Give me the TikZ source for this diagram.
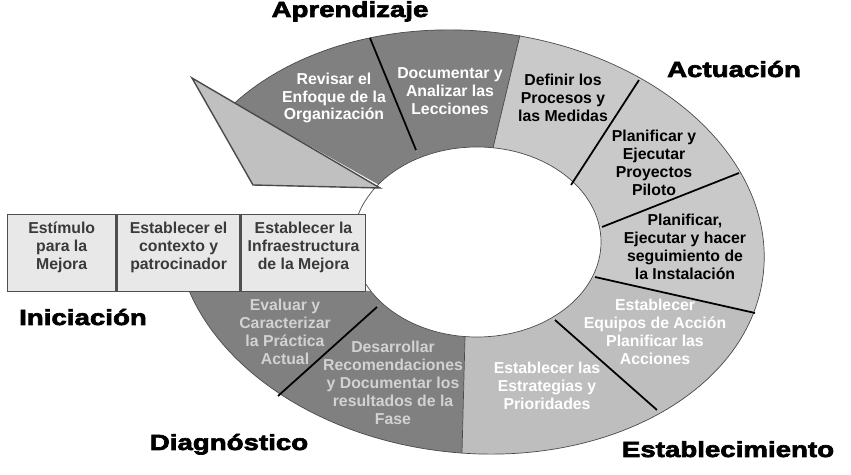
\documentclass[tikz,border=0pt]{standalone}
\usepackage{fontspec}
\setmainfont{Liberation Sans}
\newfontfamily\phasefont[FakeStretch=1.26,FakeBold=3]{Liberation Sans Bold}
\usetikzlibrary{positioning,calc}
\definecolor{ringdark}{HTML}{808080}
\definecolor{ringmid}{HTML}{BEBEBE}
\definecolor{ringlight}{HTML}{C9C9C9}
\definecolor{ringedge}{HTML}{4A4A4A}
\definecolor{headfill}{HTML}{C0C0C0}
\definecolor{boxfill}{HTML}{E8E8E8}
\definecolor{boxline}{HTML}{4F4F4F}
\definecolor{boxtext}{HTML}{3A3A3A}
\definecolor{diagtext}{HTML}{D2D2D2}
\def\px{0.02cm}
\tikzset{
  seglabel/.style={align=center, inner sep=0pt, font=\fontsize{9}{10.2}\selectfont\bfseries},
  phase/.style={anchor=base, inner sep=0pt, font=\phasefont\fontsize{12.5}{14}\selectfont},
  stagebox/.style={draw=boxline, fill=boxfill, line width=0.8pt, align=center, inner sep=0pt,
                   minimum height=77*\px, text height=27.4pt, text depth=8.7pt, text=boxtext,
                   font=\fontsize{9}{10.2}\selectfont\bfseries},
  cut/.style={draw=black, line width=1pt},
  seam/.style={draw=ringedge, line width=0.4pt},
}

\begin{document}
\begin{tikzpicture}[x=\px, y=-\px]
  \useasboundingbox (0,0) rectangle (851,475);
  \def\rot{-6}
  \coordinate (ctr) at (470,242);
  \coordinate (hole) at (477,242);
  % cuts of the ring: outer end / inner end
  \foreach \n/\ox/\oy/\ix/\iy in {0/180/291/362/291, 1/278/396/377/307, 2/462/453/465/337,
      3/657/410/555/320, 4/755/313/595/277, 5/739/173/602/227, 6/639/80/571/185,
      7/520/35/493/148, 8/370/38/416/150, 9/237/105/365/177}{
    \coordinate (o\n) at (\ox,\oy);
    \coordinate (i\n) at (\ix,\iy);
    \coordinate (e\n) at ($(o\n)!-0.6!(i\n)$);
    \coordinate (j\n) at ($(i\n)!-0.3!(o\n)$);}
  % ring segments
  \begin{scope}
    \clip[rotate around={\rot:(ctr)}] (ctr) ellipse [x radius=295*\px, y radius=211*\px];
    \foreach \a/\b/\c in {0/1/ringdark, 1/2/ringdark, 2/3/ringmid, 3/4/ringmid, 4/5/ringlight,
        5/6/ringlight, 6/7/ringlight, 7/8/ringdark, 8/9/ringdark}
      \fill[\c] (j\a) -- (e\a) -- (e\b) -- (j\b) -- cycle;
  \end{scope}
  \begin{scope}
    \clip (ctr) -- (e0) -- (e1) -- (e2) -- (e3) -- (e4) -- (e5) -- (e6) -- (e7) -- (e8) -- (e9) -- cycle;
    \draw[seam, rotate around={\rot:(ctr)}] (ctr) ellipse [x radius=295*\px, y radius=211*\px];
  \end{scope}
  \fill[white] (hole) ellipse [x radius=124*\px, y radius=95*\px];
  \draw[seam] (hole) ellipse [x radius=124*\px, y radius=95*\px];
  \foreach \n in {1,3,4,5,6,8} \draw[cut] (o\n) -- (i\n);
  \foreach \n in {2,7} \draw[seam] (o\n) -- (i\n);
  % arrow head
  \coordinate (hd1) at (192,78);
  \coordinate (hd2) at (380,188);
  \coordinate (hd3) at (253,185);
  \draw[seam, line width=0.8pt, fill=headfill] (hd1) -- (hd2) -- (hd3) -- cycle;
  % Iniciacion
  \node[stagebox, anchor=north west, minimum width=108*\px] (estimulo) at (7,214) {Estímulo\\para la\\Mejora};
  \node[stagebox, minimum width=123*\px, right=0pt of estimulo] (contexto) {Establecer el\\contexto y\\patrocinador};
  \node[stagebox, minimum width=124*\px, right=0pt of contexto] (infra) {Establecer la\\Infraestructura\\de la Mejora};
  % segment texts
  \node[seglabel, text=white] (revisar) at (334,98) {Revisar el\\Enfoque de la\\Organización};
  \node[seglabel, text=white] (documentar) at (450,91) {Documentar y\\Analizar las\\Lecciones};
  \node[seglabel] (definir) at (563,98) {Definir los\\Procesos y\\las Medidas};
  \node[seglabel] (proyectos) at (654,163) {Planificar y\\Ejecutar\\Proyectos\\Piloto};
  \node[seglabel] (instalacion) at (685,247) {Planificar,\\Ejecutar y hacer\\seguimiento de\\la Instalación};
  \node[seglabel, text=white] (equipos) at (655,332) {Establecer\\Equipos de Acción\\Planificar las\\Acciones};
  \node[seglabel, text=white] (estrategias) at (547,386) {Establecer las\\Estrategias y\\Prioridades};
  \node[seglabel, text=diagtext] (desarrollar) at (393,383) {Desarrollar\\Recomendaciones\\y Documentar los\\resultados de la\\Fase};
  \node[seglabel, text=diagtext] (evaluar) at (285,332) {Evaluar y\\Caracterizar\\la Práctica\\Actual};
  % phases
  \node[phase] (aprendizaje) at (350,17) {Aprendizaje};
  \node[phase] (actuacion) at (734,77) {Actuación};
  \node[phase] (iniciacion) at (83,325) {Iniciación};
  \node[phase] (diagnostico) at (229,450) {Diagnóstico};
  \node[phase] (establecimiento) at (728,457) {Establecimiento};
\end{tikzpicture}
\end{document}
